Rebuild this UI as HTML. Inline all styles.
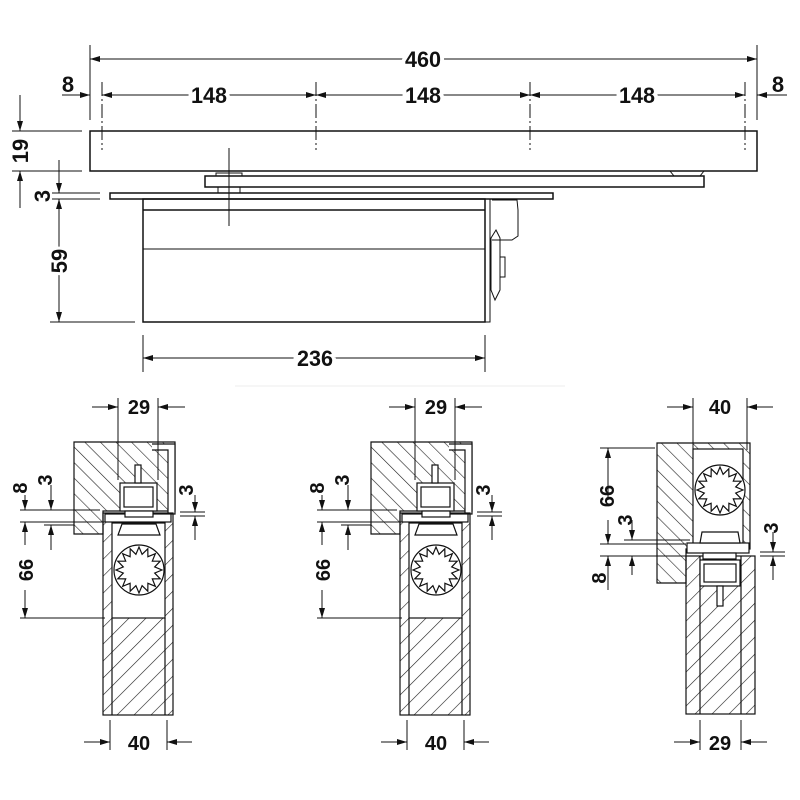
<!DOCTYPE html>
<html><head><meta charset="utf-8"><style>html,body{margin:0;padding:0;background:#fff}svg{display:block}</style></head>
<body>
<svg id="s" width="800" height="800" viewBox="0 0 800 800" xmlns="http://www.w3.org/2000/svg" font-family="Liberation Sans, sans-serif" font-weight="bold">
<defs>
<marker id="a" viewBox="0 0 10 6" refX="10" refY="3" markerWidth="10" markerHeight="6" markerUnits="userSpaceOnUse" orient="auto-start-reverse"><path d="M0,0L10,3L0,6z" fill="#111"/></marker>
<pattern id="h" width="11" height="11" patternUnits="userSpaceOnUse" patternTransform="rotate(-45)"><line x1="0" y1="0" x2="0" y2="11" stroke="#222" stroke-width="1.2"/></pattern>
<pattern id="h2" width="12" height="12" patternUnits="userSpaceOnUse" patternTransform="rotate(45)"><line x1="0" y1="0" x2="0" y2="12" stroke="#222" stroke-width="1.2"/></pattern>
</defs>
<g stroke="#111" fill="none" stroke-width="1">
<line x1="90" y1="45" x2="90" y2="120"/><line x1="757" y1="45" x2="757" y2="120"/>
<line x1="90" y1="59" x2="757" y2="59" marker-start="url(#a)" marker-end="url(#a)"/>
<g stroke-dasharray="14,3,2,3">
<line x1="102" y1="82" x2="102" y2="150"/><line x1="316" y1="82" x2="316" y2="150"/><line x1="530" y1="82" x2="530" y2="150"/><line x1="745" y1="82" x2="745" y2="150"/></g>
<line x1="102" y1="95" x2="316" y2="95" marker-start="url(#a)" marker-end="url(#a)"/>
<line x1="316" y1="95" x2="530" y2="95" marker-start="url(#a)" marker-end="url(#a)"/>
<line x1="530" y1="95" x2="745" y2="95" marker-start="url(#a)" marker-end="url(#a)"/>
<line x1="62" y1="95" x2="90" y2="95" marker-end="url(#a)"/>
<line x1="787" y1="95" x2="757" y2="95" marker-end="url(#a)"/>
<rect x="90" y="131" width="667" height="40" stroke-width="1.5"/>
<rect x="205" y="176" width="499" height="11" stroke-width="1.5"/>
<rect x="216" y="173" width="26" height="3"/><rect x="218" y="187" width="22" height="6"/>
<path d="M670,171 L674,176 L700,176 L704,171"/>
<rect x="110" y="193" width="443" height="6" stroke-width="1.5"/>
<rect x="143" y="199" width="342" height="123" stroke-width="1.5"/>
<line x1="143" y1="210" x2="485" y2="210" stroke-width="1.5"/><line x1="143" y1="249" x2="485" y2="249"/>
<line x1="229" y1="148" x2="229" y2="226"/>
<rect x="485" y="199" width="5" height="123"/>
<path d="M492,200 L517,200 L518,210 L518,236 L512,240 L492,240"/>
<path d="M496,230 L491,238 L491,290 L495,300 L500,290 L500,238z"/><rect x="500" y="257" width="5" height="20"/>
<line x1="12" y1="131" x2="82" y2="131"/><line x1="12" y1="171" x2="82" y2="171"/>
<line x1="20" y1="95" x2="20" y2="131" marker-end="url(#a)"/><line x1="20" y1="208" x2="20" y2="171" marker-end="url(#a)"/>
<line x1="52" y1="193" x2="100" y2="193"/><line x1="52" y1="199" x2="100" y2="199"/>
<line x1="59" y1="160" x2="59" y2="193" marker-end="url(#a)"/>
<line x1="59" y1="322" x2="59" y2="199" marker-start="url(#a)" marker-end="url(#a)"/>
<line x1="50" y1="322" x2="135" y2="322"/>
<line x1="143" y1="335" x2="143" y2="372"/><line x1="485" y1="335" x2="485" y2="372"/>
<line x1="143" y1="358" x2="485" y2="358" marker-start="url(#a)" marker-end="url(#a)"/>
</g>
<g fill="#111" font-size="22" text-anchor="middle">
<text x="423" y="67" stroke="#fff" stroke-width="8" paint-order="stroke" textLength="36" lengthAdjust="spacingAndGlyphs">460</text>
<text x="209" y="103" stroke="#fff" stroke-width="8" paint-order="stroke" textLength="36" lengthAdjust="spacingAndGlyphs">148</text>
<text x="423" y="103" stroke="#fff" stroke-width="8" paint-order="stroke" textLength="36" lengthAdjust="spacingAndGlyphs">148</text>
<text x="637" y="103" stroke="#fff" stroke-width="8" paint-order="stroke" textLength="36" lengthAdjust="spacingAndGlyphs">148</text>
<text x="68" y="92">8</text><text x="778" y="92">8</text>
<text x="315" y="366" stroke="#fff" stroke-width="8" paint-order="stroke" textLength="36" lengthAdjust="spacingAndGlyphs">236</text>
<text transform="translate(28,151) rotate(-90)" stroke="#fff" stroke-width="6" paint-order="stroke">19</text>
<text transform="translate(50,196) rotate(-90)">3</text>
<text transform="translate(67,261) rotate(-90)" stroke="#fff" stroke-width="6" paint-order="stroke">59</text>
</g>
<line x1="235" y1="386" x2="565" y2="386" stroke="#eee"/>

<g id="sec">
<g stroke="#111" stroke-width="1.2">
<path d="M74,442 L175,442 L175,511 L103,511 L103,534 L74,534 Z" fill="url(#h)"/>
<path d="M152,444 L175,444 L175,514 L168,514 L168,450 L152,450" fill="#fff"/>
<rect x="103" y="513" width="70" height="202" fill="url(#h2)"/>
<rect x="112" y="523" width="53" height="95" fill="#fff"/>
<line x1="112" y1="618" x2="112" y2="715"/><line x1="165" y1="618" x2="165" y2="715"/>
<rect x="105" y="514" width="66" height="8" fill="#fff"/>
<rect x="120" y="483" width="37" height="28" fill="#fff"/><rect x="124" y="487" width="29" height="20" fill="#fff"/>
<rect x="135" y="465" width="6" height="18" fill="#fff"/>
<rect x="125" y="511" width="28" height="6" fill="#fff"/>
<path d="M122,524 L156,524 L160,535 L118,535 Z" fill="#fff"/>
<circle cx="139" cy="570" r="25" fill="#fff"/>
<polygon class="gear" points="" fill="#fff"/>
</g>
<g stroke="#111" fill="none">
<line x1="118" y1="398" x2="118" y2="480"/><line x1="158" y1="398" x2="158" y2="480"/>
<line x1="92" y1="407" x2="118" y2="407" marker-end="url(#a)"/><line x1="185" y1="407" x2="158" y2="407" marker-end="url(#a)"/>
<line x1="110" y1="720" x2="110" y2="750"/><line x1="167" y1="720" x2="167" y2="750"/>
<line x1="84" y1="742" x2="110" y2="742" marker-end="url(#a)"/><line x1="192" y1="742" x2="167" y2="742" marker-end="url(#a)"/>
<line x1="20" y1="510" x2="100" y2="510"/><line x1="20" y1="522" x2="112" y2="522"/><line x1="44" y1="525" x2="74" y2="525"/>
<line x1="20" y1="618" x2="105" y2="618"/>
<line x1="25" y1="495" x2="25" y2="510" marker-end="url(#a)"/>
<line x1="51" y1="485" x2="51" y2="510" marker-end="url(#a)"/><line x1="51" y1="550" x2="51" y2="525" marker-end="url(#a)"/>
<line x1="25" y1="545" x2="25" y2="522" marker-end="url(#a)"/><line x1="25" y1="590" x2="25" y2="618" marker-end="url(#a)"/>
<line x1="180" y1="512" x2="205" y2="512"/><line x1="180" y1="516" x2="205" y2="516"/>
<line x1="195" y1="495" x2="195" y2="512" marker-end="url(#a)"/><line x1="195" y1="540" x2="195" y2="516" marker-end="url(#a)"/>
</g>
<g fill="#111" font-size="20" text-anchor="middle">
<text x="139" y="414">29</text><text x="139" y="750">40</text>
<text transform="translate(27,488) rotate(-90)">8</text>
<text transform="translate(52,480) rotate(-90)">3</text>
<text transform="translate(193,490) rotate(-90)">3</text>
<text transform="translate(33,570) rotate(-90)">66</text>
</g>
</g>
<use href="#sec" x="297"/>

<g stroke="#111" stroke-width="1.2">
<path d="M657,443 L750,443 L750,549 L686,549 L686,583 L657,583 Z" fill="url(#h)"/>
<rect x="693" y="449" width="50" height="96" fill="#fff"/>
<rect x="686" y="556" width="69" height="158" fill="url(#h2)"/>
<line x1="700" y1="556" x2="700" y2="714"/><line x1="741" y1="556" x2="741" y2="714"/>
<rect x="687" y="543" width="62" height="10" fill="#fff"/>
<rect x="703" y="553" width="33" height="6" fill="#fff"/>
<rect x="700" y="560" width="40" height="26" fill="#fff"/><rect x="704" y="564" width="32" height="18" fill="#fff"/>
<rect x="717" y="586" width="6" height="20" fill="#fff"/>
<path d="M702,532 L738,532 L740,543 L700,543 Z" fill="#fff"/>
<circle cx="720" cy="490" r="25" fill="#fff"/>
<polygon id="g3" points="" fill="#fff"/>
</g>
<g stroke="#111" fill="none">
<line x1="693" y1="398" x2="693" y2="450"/><line x1="747" y1="398" x2="747" y2="450"/>
<line x1="667" y1="407" x2="693" y2="407" marker-end="url(#a)"/><line x1="773" y1="407" x2="747" y2="407" marker-end="url(#a)"/>
<line x1="700" y1="720" x2="700" y2="750"/><line x1="741" y1="720" x2="741" y2="750"/>
<line x1="674" y1="742" x2="700" y2="742" marker-end="url(#a)"/><line x1="767" y1="742" x2="741" y2="742" marker-end="url(#a)"/>
<line x1="600" y1="448" x2="655" y2="448"/><line x1="600" y1="544" x2="686" y2="544"/><line x1="624" y1="540" x2="690" y2="540"/>
<line x1="600" y1="556" x2="686" y2="556"/>
<line x1="608" y1="500" x2="608" y2="448" marker-end="url(#a)"/>
<line x1="608" y1="520" x2="608" y2="544" marker-end="url(#a)"/>
<line x1="632" y1="520" x2="632" y2="540" marker-end="url(#a)"/><line x1="632" y1="575" x2="632" y2="556" marker-end="url(#a)"/>
<line x1="608" y1="590" x2="608" y2="556" marker-end="url(#a)"/>
<line x1="760" y1="552" x2="785" y2="552"/><line x1="760" y1="556" x2="785" y2="556"/>
<line x1="773" y1="532" x2="773" y2="552" marker-end="url(#a)"/><line x1="773" y1="580" x2="773" y2="556" marker-end="url(#a)"/>
</g>
<g fill="#111" font-size="20" text-anchor="middle">
<text x="720" y="414">40</text><text x="720" y="750">29</text>
<text transform="translate(614,496) rotate(-90)">66</text>
<text transform="translate(632,520) rotate(-90)">3</text>
<text transform="translate(778,528) rotate(-90)">3</text>
<text transform="translate(606,578) rotate(-90)">8</text>
</g>
</svg>
<script>
function gear(cx,cy){var p=[];for(var i=0;i<32;i++){var r=i%2?16:23,a=i*Math.PI/16;p.push((cx+r*Math.cos(a)).toFixed(1)+","+(cy+r*Math.sin(a)).toFixed(1));}return p.join(" ");}
document.querySelector("#sec .gear").setAttribute("points",gear(139,570));
document.getElementById("g3").setAttribute("points",gear(720,490));
</script>
</body></html>
